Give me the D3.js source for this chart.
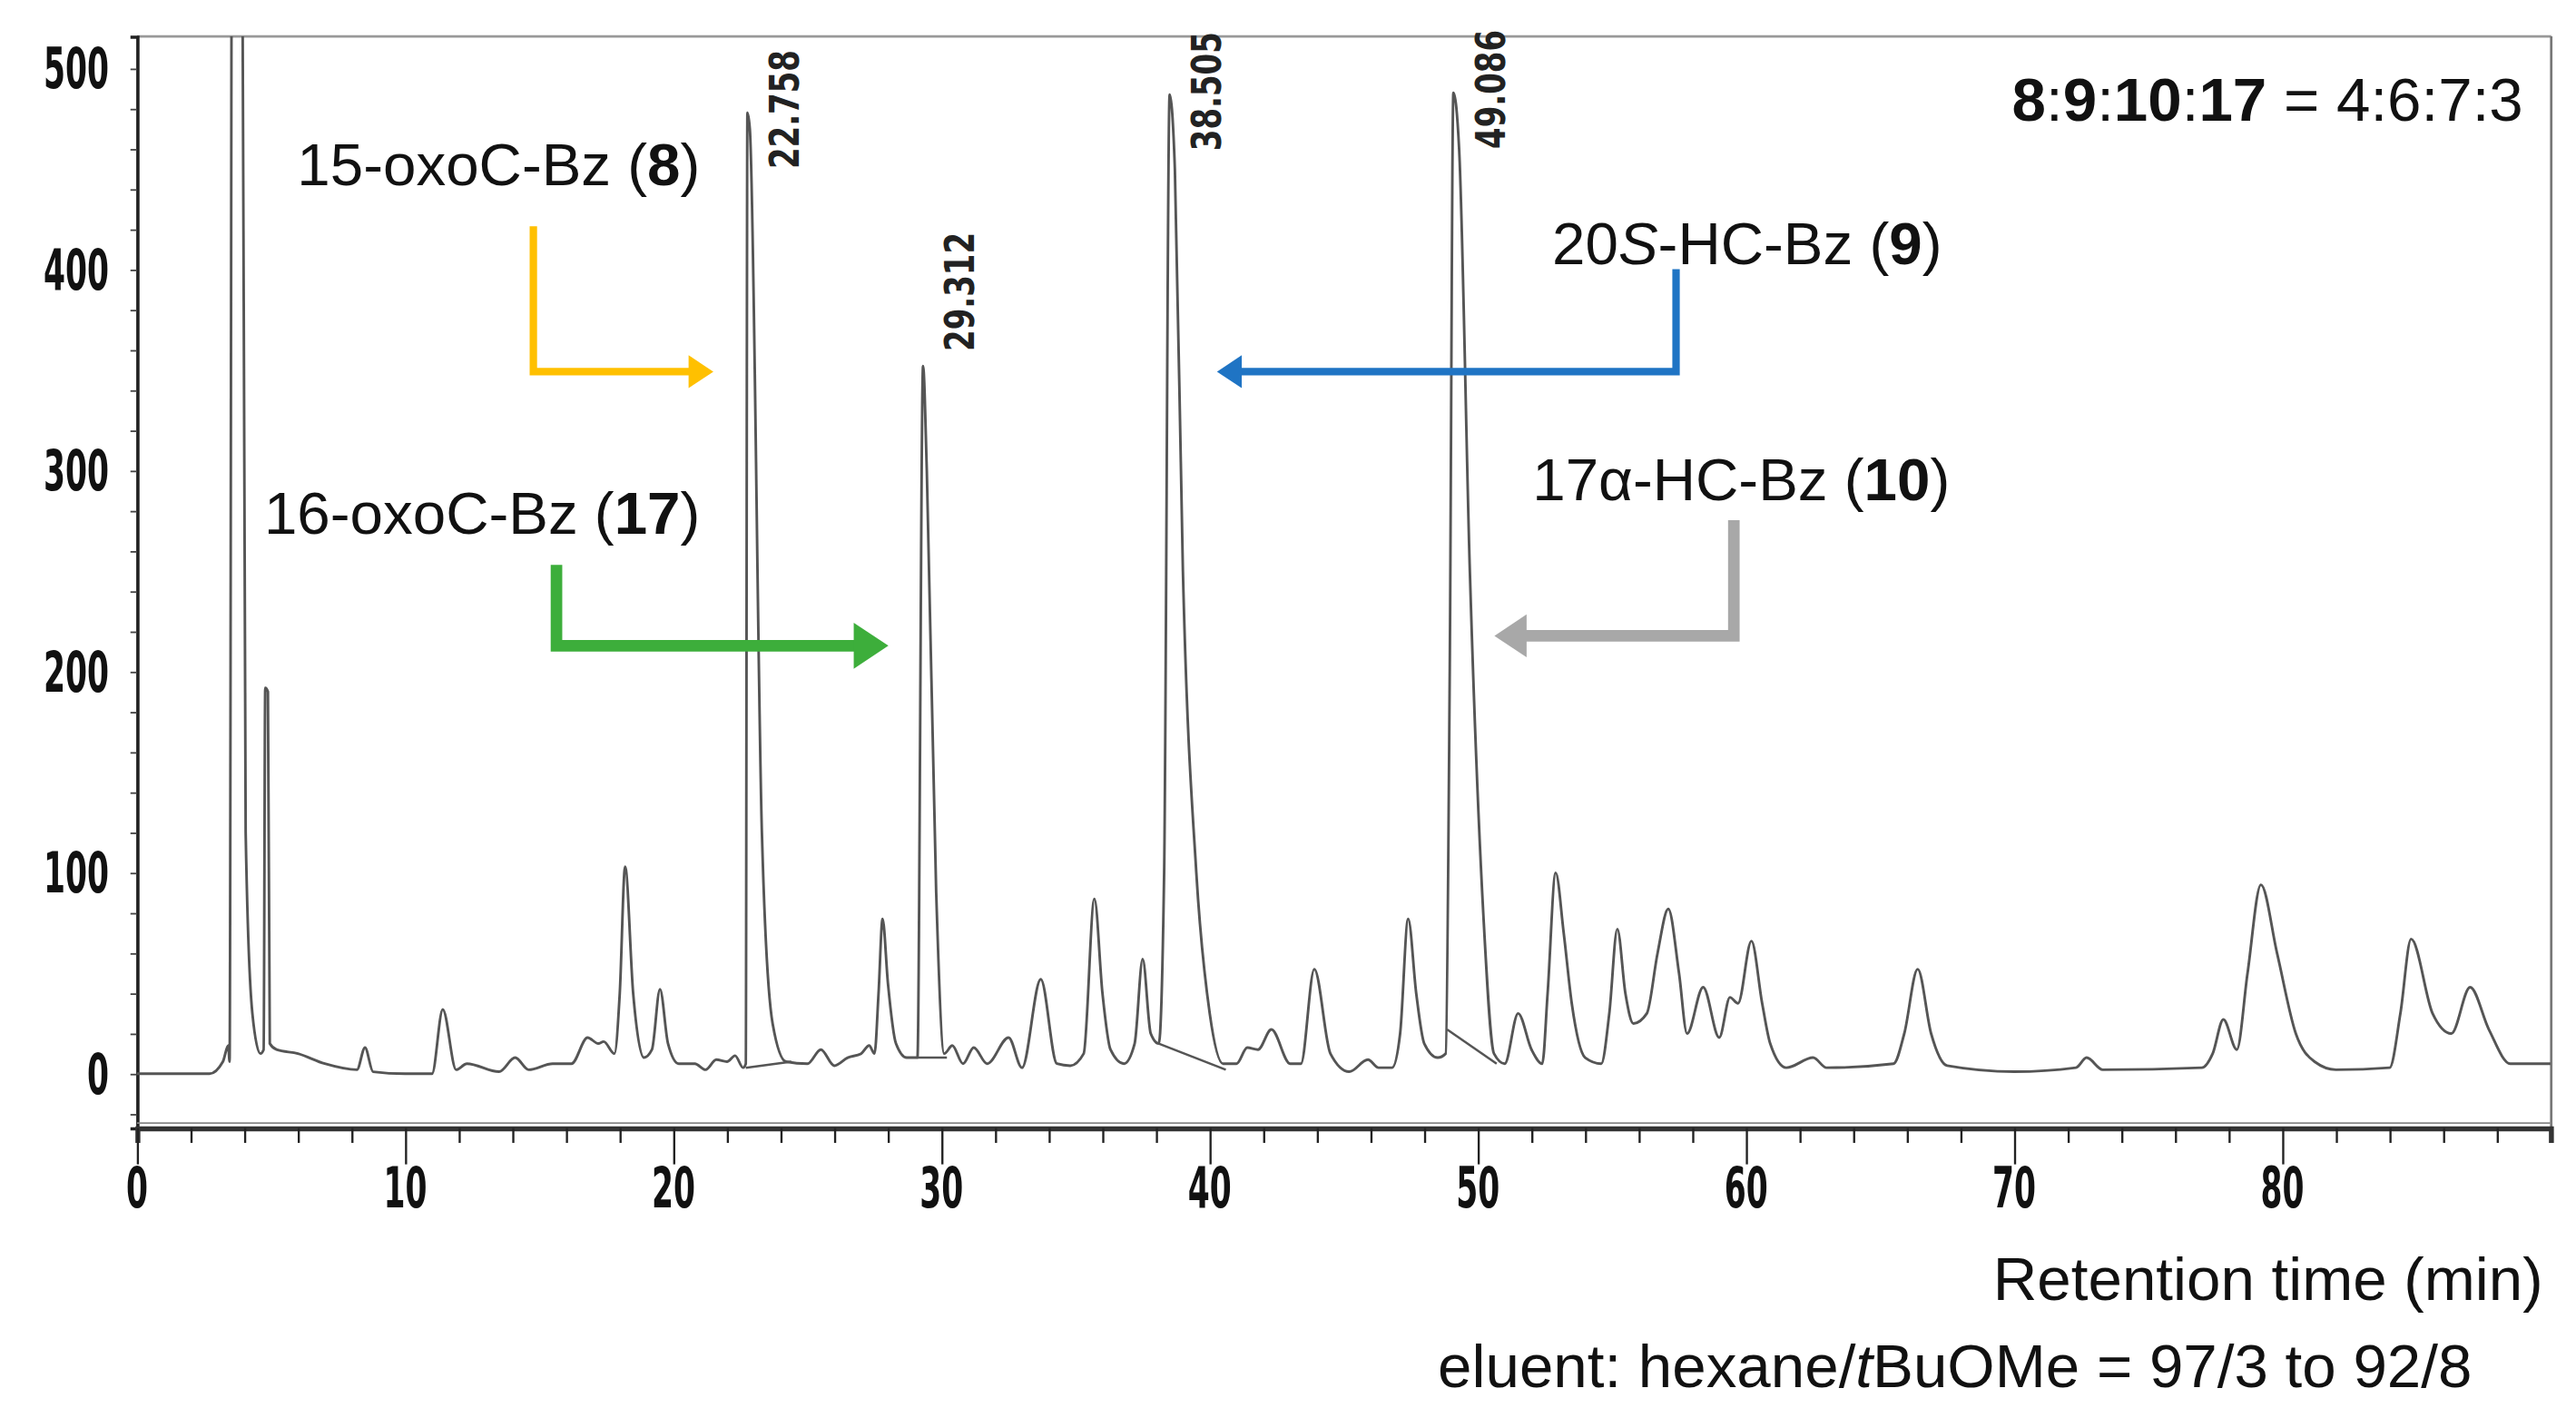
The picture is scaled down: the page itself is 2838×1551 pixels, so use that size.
<!DOCTYPE html>
<html><head><meta charset="utf-8">
<script src="https://cdn.jsdelivr.net/npm/d3@7"></script>
<style>html,body{margin:0;padding:0;background:#fff}</style>
</head><body>
<svg id="c" width="2838" height="1551" viewBox="0 0 1560 852.5"></svg>
<script>
// trace: [retention time (min), signal]
const trace = [[0,0],[2.7,0],[3.2,6],[3.4,14],[3.45,6],[3.55,650],[3.9,650],[4.05,120],[4.3,30],[4.6,10],[4.72,12],[4.78,192],[4.88,190],[4.95,15],[5.2,12],[6,10],[7,5],[8.2,2],[8.5,13],[8.8,1],[10,0],[11.0,0],[11.4,32],[11.9,2],[12.3,5],[13.5,1],[14.1,8],[14.6,2],[15.5,5],[16.2,5],[16.8,18],[17.2,15],[17.4,16],[17.8,10],[18.0,40],[18.2,103],[18.5,40],[18.9,8],[19.2,12],[19.5,42],[19.8,15],[20.2,5],[20.8,5],[21.2,2],[21.6,7],[22.0,6],[22.3,9],[22.6,3],[22.7,5],[22.76,478],[22.85,470],[23.3,120],[23.7,25],[24.2,6],[25,5],[25.5,12],[26,4],[26.5,8],[27.0,10],[27.3,14],[27.5,10],[27.65,40],[27.8,77],[28.0,45],[28.3,15],[28.7,8],[29.1,8],[29.31,352],[29.45,300],[29.8,90],[30.1,10],[30.4,14],[30.8,5],[31.2,13],[31.7,5],[32.5,18],[33.0,3],[33.7,47],[34.3,5],[34.8,4],[35.3,10],[35.7,87],[36.0,40],[36.3,12],[36.8,5],[37.2,15],[37.5,57],[37.8,20],[38.1,15],[38.3,100],[38.505,487],[38.7,450],[39.0,250],[39.5,100],[40.0,30],[40.5,5],[41.0,5],[41.4,13],[41.8,12],[42.3,22],[43.0,5],[43.4,5],[43.9,52],[44.5,10],[45.2,1],[45.9,7],[46.3,3],[46.8,3],[47.1,20],[47.4,77],[47.7,40],[48.0,15],[48.5,8],[48.8,10],[48.95,200],[49.086,488],[49.3,460],[49.7,250],[50.2,80],[50.6,10],[51.0,5],[51.5,30],[52.0,12],[52.4,5],[52.6,40],[52.9,100],[53.2,70],[53.5,35],[54.0,8],[54.6,5],[54.9,30],[55.2,72],[55.5,40],[55.8,25],[56.3,30],[56.7,60],[57.1,82],[57.5,50],[57.8,20],[58.4,43],[59.0,18],[59.4,38],[59.7,35],[60.2,66],[60.6,35],[60.9,15],[61.5,3],[62.5,8],[63,3],[65.5,5],[65.9,20],[66.4,52],[66.9,20],[67.5,4],[70,1],[72.3,3],[72.7,8],[73.3,2],[77,3],[77.4,10],[77.8,27],[78.3,12],[78.7,50],[79.2,94],[79.8,60],[80.5,20],[81.2,6],[82,2],[84.0,3],[84.4,30],[84.8,67],[85.6,30],[86.3,20],[87.0,43],[87.7,22],[88.5,5],[90,5]];
// integration baselines drawn under main peaks: [t1, v1, t2, v2]
const baselines = [[22.7,3,24.4,6],[29.1,8,30.2,8],[38.1,15,40.6,2],[48.85,22,50.7,5]];
const peakLabels = ["22.758","29.312","38.505","49.086"];
const peakTimes = [22.758,29.312,38.505,49.086];
const peakHeights = [478,352,487,488];
const yTicks = [0,100,200,300,400,500];
const xTicks = [0,10,20,30,40,50,60,70,80];

const svg = d3.select("#c");
const x = d3.scaleLinear().domain([0,90]).range([83,1544.6]);
const y = d3.scaleLinear().domain([-27,516]).range([683,22]);
const cond = "'Liberation Sans Narrow','DejaVu Sans Condensed','Roboto Condensed',sans-serif";
const sans = "Arial,'Liberation Sans',sans-serif";

// frame
svg.append("line").attr("x1",83).attr("x2",1545).attr("y1",22).attr("y2",22).attr("stroke","#999").attr("stroke-width",1.5);
svg.append("line").attr("x1",1545).attr("x2",1545).attr("y1",22).attr("y2",683).attr("stroke","#777").attr("stroke-width",1.5);

// y axis
const ya = svg.append("g").attr("transform","translate(83,0)")
 .call(d3.axisLeft(y).tickValues(d3.range(-20,520,20)).tickSize(4).tickFormat(""));
ya.select(".domain").attr("stroke","#222").attr("stroke-width",2);
ya.selectAll(".tick line").attr("stroke","#444");
svg.selectAll(".ylab").data(yTicks).enter().append("text")
 .attr("transform",d=>`translate(66,${y(d)+12}) scale(0.62,1)`).attr("text-anchor","end")
 .attr("font-family",cond).attr("font-weight","bold").attr("font-size",34)
 .attr("fill","#111").text(d=>d);

// x axis (double thick line)
const xa = svg.append("g").attr("transform","translate(0,683)")
 .call(d3.axisBottom(x).tickValues(d3.range(0,90,2)).tickSize(9).tickFormat(""));
xa.select(".domain").attr("stroke","#333").attr("stroke-width",3);
xa.selectAll(".tick line").attr("stroke","#222").attr("stroke-width",1.3);
xa.selectAll(".tick").filter(d=>d%10===0).select("line").attr("y2",22);
svg.append("line").attr("x1",83).attr("x2",1545).attr("y1",680).attr("y2",680).attr("stroke","#888").attr("stroke-width",1);
svg.selectAll(".xlab").data(xTicks).enter().append("text")
 .attr("transform",d=>`translate(${x(d)},731) scale(0.62,1)`).attr("text-anchor","middle")
 .attr("font-family",cond).attr("font-weight","bold").attr("font-size",34)
 .attr("fill","#111").text(d=>d);

// trace
svg.append("clipPath").attr("id","pc").append("rect").attr("x",83).attr("y",22).attr("width",1462).attr("height",661);
const g = svg.append("g").attr("clip-path","url(#pc)");
g.append("path").datum(trace).attr("fill","none").attr("stroke","#555").attr("stroke-width",1.6)
 .attr("d",d3.line().x(d=>x(d[0])).y(d=>y(d[1])).curve(d3.curveMonotoneX));
g.selectAll(".bl").data(baselines).enter().append("line")
 .attr("x1",d=>x(d[0])).attr("y1",d=>y(d[1])).attr("x2",d=>x(d[2])).attr("y2",d=>y(d[3]))
 .attr("stroke","#555").attr("stroke-width",1.4);

// peak labels (bottom of text placed relative to peak apex)
const lblDy = [34,-9,34,34];
svg.selectAll(".pl").data(peakLabels).enter().append("text")
 .attr("transform",(d,i)=>`translate(${x(peakTimes[i])+31},${y(peakHeights[i])+lblDy[i]}) rotate(-90)`)
 .attr("font-family",cond).attr("font-weight","bold").attr("font-size",24).attr("fill","#222")
 .attr("textLength",72).attr("lengthAdjust","spacingAndGlyphs").text(d=>d);

// annotations
function label(xr,yb,parts,anchor,fs){
  const t=svg.append("text").attr("x",xr).attr("y",yb).attr("text-anchor",anchor||"end")
   .attr("font-family",sans).attr("font-size",fs||36).attr("fill","#111");
  parts.forEach(p=>t.append("tspan").attr("font-weight",p.b?"bold":null).attr("font-style",p.i?"italic":null).text(p.t));
}
label(424,112,[{t:"15-oxoC-Bz ("},{t:"8",b:1},{t:")"}]);
label(424,323,[{t:"16-oxoC-Bz ("},{t:"17",b:1},{t:")"}]);
label(940,160,[{t:"20"},{t:"S",i:1},{t:"-HC-Bz ("},{t:"9",b:1},{t:")"}],"start");
label(928,303,[{t:"17α-HC-Bz ("},{t:"10",b:1},{t:")"}],"start");
label(1528,73,[{t:"8",b:1},{t:":"},{t:"9",b:1},{t:":"},{t:"10",b:1},{t:":"},{t:"17",b:1},{t:" = 4:6:7:3"}],"end",37);
label(1540,787,[{t:"Retention time (min)"}],"end",37);
label(1497,840,[{t:"eluent: hexane/"},{t:"t",i:1},{t:"BuOMe = 97/3 to 92/8"}],"end",37);

function arrow(pts,color,w,head){
  const last=pts[pts.length-1], prev=pts[pts.length-2];
  const dir=Math.sign(last[0]-prev[0]);
  const end=[last[0]-dir*head*1.1,last[1]];
  svg.append("path").attr("fill","none").attr("stroke",color).attr("stroke-width",w)
   .attr("d",d3.line()([...pts.slice(0,-1),end]));
  svg.append("path").attr("fill",color)
   .attr("d",`M${last[0]},${last[1]} L${last[0]-dir*head*1.5},${last[1]-head} L${last[0]-dir*head*1.5},${last[1]+head} Z`);
}
arrow([[323,137],[323,225],[432,225]],"#FFC000",4.5,10);
arrow([[337,342],[337,391],[538,391]],"#3DAE3B",7,14);
arrow([[1015,163],[1015,225],[737,225]],"#1F74C4",4.5,10);
arrow([[1050,315],[1050,385],[905,385]],"#A8A8A8",7,13);
</script>
</body></html>
